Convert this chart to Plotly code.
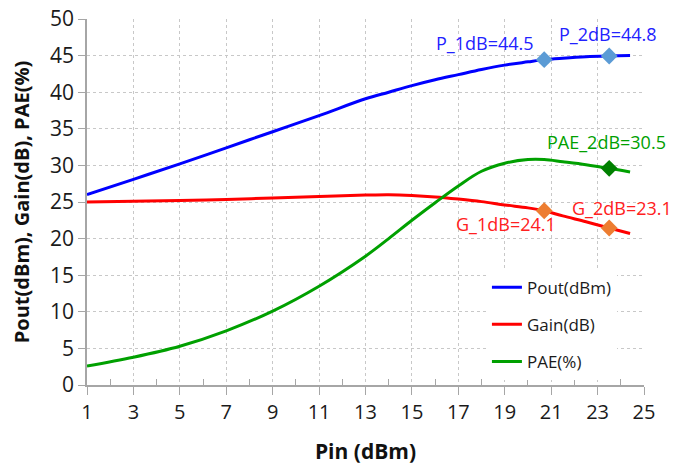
import plotly.graph_objects as go

pin = [1, 3, 5, 7, 9, 11, 13, 14, 15, 16, 17, 18, 19, 20, 20.7, 21.5, 22.5, 23.5, 24.4]
pout = [26.0, 28.1, 30.2, 32.4, 34.6, 36.8, 39.1, 40.0, 40.9, 41.7, 42.4, 43.1, 43.7, 44.15, 44.45, 44.65, 44.85, 44.95, 45.0]
gain = [25.0, 25.1, 25.2, 25.35, 25.55, 25.75, 25.95, 26.0, 25.9, 25.7, 25.4, 25.05, 24.6, 24.2, 23.8, 23.1, 22.3, 21.45, 20.7]
pae = [2.6, 3.8, 5.3, 7.4, 10.1, 13.5, 17.6, 20.0, 22.5, 24.9, 27.2, 29.2, 30.3, 30.8, 30.8, 30.5, 30.1, 29.6, 29.1]

p_mark_x = [20.7, 23.5]
p_mark_y = [44.45, 44.95]
g_mark_x = [20.7, 23.5]
g_mark_y = [23.8, 21.45]
pae_mark_x = [23.5]
pae_mark_y = [29.6]

labels = ["P_1dB=44.5", "P_2dB=44.8", "PAE_2dB=30.5", "G_1dB=24.1", "G_2dB=23.1"]

FONT = "Open Sans"

fig = go.Figure()
fig.add_trace(go.Scatter(x=pin, y=pout, mode="lines", name="Pout(dBm)", legendgroup="a",
                         line=dict(color="#0000FF", width=3, shape="spline")))
fig.add_trace(go.Scatter(x=pin, y=gain, mode="lines", name="Gain(dB)", legendgroup="b",
                         line=dict(color="#FF0000", width=3, shape="spline")))
fig.add_trace(go.Scatter(x=pin, y=pae, mode="lines", name="PAE(%)", legendgroup="c",
                         line=dict(color="#00A000", width=3, shape="spline")))
fig.add_trace(go.Scatter(x=p_mark_x, y=p_mark_y, mode="markers", showlegend=False,
                         marker=dict(symbol="diamond", size=13, color="#5B9BD5")))
fig.add_trace(go.Scatter(x=g_mark_x, y=g_mark_y, mode="markers", showlegend=False,
                         marker=dict(symbol="diamond", size=13, color="#ED7D31")))
fig.add_trace(go.Scatter(x=pae_mark_x, y=pae_mark_y, mode="markers", showlegend=False,
                         marker=dict(symbol="diamond", size=13, color="#008000")))

ann_pos = [(18.15, 46.7, "#2222FF"), (23.45, 47.95, "#2222FF"), (23.4, 33.2, "#00A000"),
           (19.05, 22.0, "#FF2020"), (24.05, 24.2, "#FF2020")]
for t, (ax, ay, c) in zip(labels, ann_pos):
    fig.add_annotation(x=ax, y=ay, text=t, showarrow=False, xref="x", yref="y",
                       font=dict(family=FONT, size=18, color=c))

# page body has an 8px default margin: figure shrunk by 8px, left/top margins reduced by 8px
fig.update_layout(
    width=670, height=458,
    margin=dict(l=79, r=34, t=11, b=81),
    paper_bgcolor="white", plot_bgcolor="white",
    font=dict(family=FONT, color="#1A1A1A"),
    showlegend=True,
    legend=dict(x=0.718, y=0.315, xanchor="left", yanchor="top",
                bgcolor="white", borderwidth=0, tracegroupgap=12,
                font=dict(family=FONT, size=17, color="#1A1A1A")),
    xaxis=dict(range=[1, 25], tickmode="linear", tick0=1, dtick=2, automargin=False,
               showgrid=True, gridcolor="#C8C8C8", griddash="dot", gridwidth=1,
               showline=True, linecolor="#A6A6A6", linewidth=1.5,
               ticks="outside", ticklen=8, tickcolor="#A6A6A6", ticklabeloverflow="allow",
               minor=dict(ticks="inside", tick0=2, dtick=2, ticklen=6, tickcolor="#A6A6A6", showgrid=False),
               zeroline=False,
               tickfont=dict(family=FONT, size=20, color="#1A1A1A"),
               title=dict(text="<b>Pin (dBm)</b>", font=dict(family=FONT, size=21, color="#111111"), standoff=21)),
    yaxis=dict(range=[0, 50], tickmode="linear", tick0=0, dtick=5, automargin=False,
               showgrid=True, gridcolor="#C8C8C8", griddash="dot", gridwidth=1,
               showline=True, linecolor="#A6A6A6", linewidth=1.5,
               ticks="outside", ticklen=7, tickcolor="#A6A6A6", ticklabeloverflow="allow",
               zeroline=False,
               tickfont=dict(family=FONT, size=21, color="#1A1A1A"),
               title=dict(text="<b>Pout(dBm), Gain(dB), PAE(%)</b>", font=dict(family=FONT, size=20, color="#111111"), standoff=16)),
)

fig.write_html("out.html")
